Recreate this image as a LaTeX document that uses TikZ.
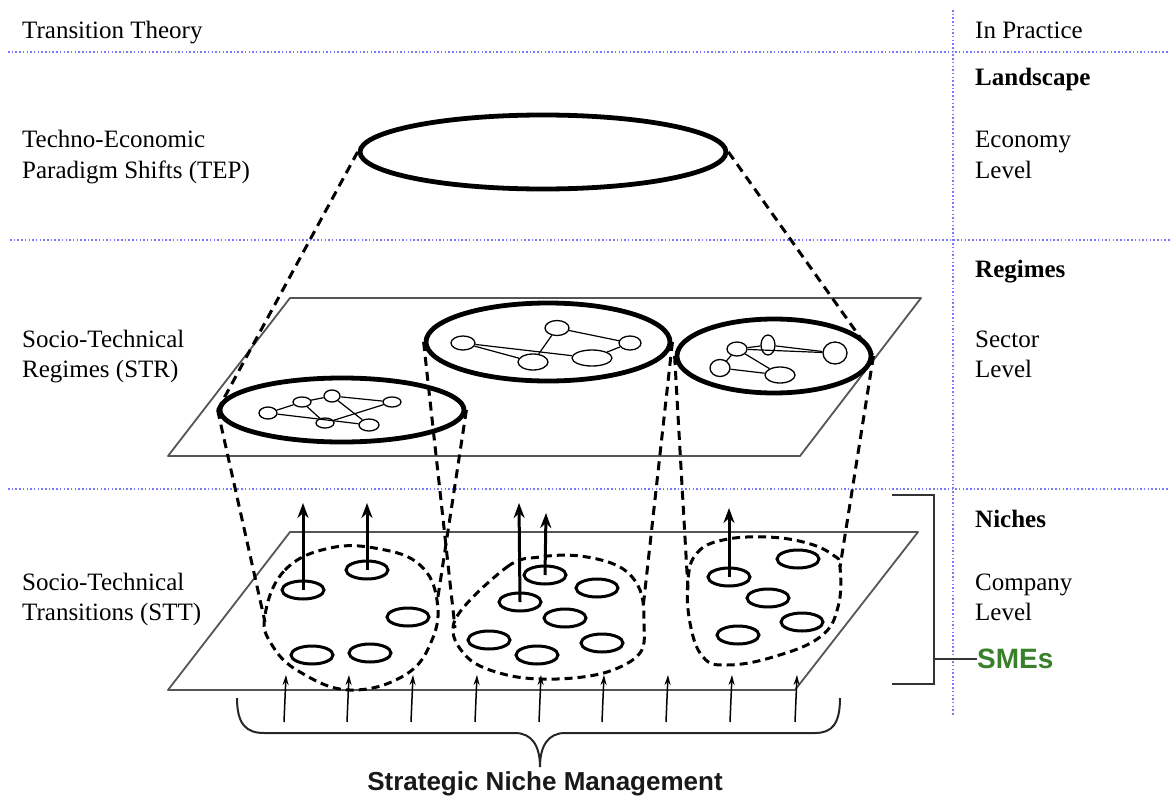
\documentclass[tikz,border=0pt]{standalone}
\usepackage{fontspec}
\setmainfont{Liberation Serif}
\newfontfamily\arialfont{Liberation Sans}
\usetikzlibrary{shapes.geometric,arrows.meta}
\definecolor{gridblue}{RGB}{120,120,250}
\definecolor{smegreen}{RGB}{58,128,42}
\definecolor{planegray}{RGB}{85,85,85}
\begin{document}
\begin{tikzpicture}[x=1pt,y=-1pt,
  lbl/.style={anchor=base west,inner sep=0,font=\fontsize{25}{30}\selectfont},
  lblb/.style={lbl,font=\fontsize{25}{30}\selectfont\bfseries},
  guide/.style={gridblue,line width=1.1pt,dash pattern=on 1.5pt off 2.2pt},
  plane/.style={planegray,line width=1.8pt,line join=round},
  bigell/.style={ellipse,draw,line width=4.8pt,inner sep=0},
  netnode/.style={ellipse,draw,line width=1.3pt,inner sep=0},
  netedge/.style={line width=1.2pt},
  nicheell/.style={ellipse,draw,line width=3pt,inner sep=0,minimum width=42pt,minimum height=18pt},
  cyl/.style={line width=3pt,dash pattern=on 9pt off 6pt},
  blob/.style={line width=3pt,dash pattern=on 8pt off 5pt},
  uparrow/.style={line width=3pt,-{Stealth[length=15pt,width=11pt]}},
  smallarrow/.style={line width=1.5pt,-{Stealth[length=10pt,width=6pt]}},
  bracket/.style={black!80,line width=2pt}]
\useasboundingbox (0,0) rectangle (1170,798);

% guide lines
\draw[guide] (8,52) -- (1170,52);
\draw[guide] (10,240) -- (1170,240);
\draw[guide] (8,489) -- (1170,489);
\draw[guide] (953,10) -- (953,715);

% texts
\node[lbl] (tt) at (22,38) {Transition Theory};
\node[lbl] (ip) at (975,38) {In Practice};
\node[lblb] (land) at (975,85) {Landscape};
\node[lbl] (tep1) at (22,147) {Techno-Economic};
\node[lbl] (tep2) at (22,178) {Paradigm Shifts (TEP)};
\node[lbl] (eco1) at (975,147) {Economy};
\node[lbl] (eco2) at (975,178) {Level};
\node[lblb] (reg) at (975,277) {Regimes};
\node[lbl] (str1) at (22,347) {Socio-Technical};
\node[lbl] (str2) at (22,377) {Regimes (STR)};
\node[lbl] (sec1) at (975,347) {Sector};
\node[lbl] (sec2) at (975,377) {Level};
\node[lblb] (nic) at (975,527) {Niches};
\node[lbl] (stt1) at (22,590) {Socio-Technical};
\node[lbl] (stt2) at (22,620) {Transitions (STT)};
\node[lbl] (com1) at (975,590) {Company};
\node[lbl] (com2) at (975,620) {Level};
\node[anchor=west,inner sep=0,text=smegreen,font=\arialfont\bfseries\fontsize{28}{32}\selectfont] (sme) at (977,659) {SMEs};
\node[anchor=base,inner sep=0,text=black!90,font=\arialfont\bfseries\fontsize{26}{30}\selectfont] (snm) at (545,790) {Strategic Niche Management};

% planes
\draw[plane] (290,298) -- (921,298) -- (800,456) -- (168,456) -- cycle;
\draw[plane] (290,532) -- (918,532) -- (795,690) -- (168,690) -- cycle;

% big ellipses
\node[bigell,minimum width=366pt,minimum height=74pt] (top) at (543,152) {};
\node[bigell,minimum width=244pt,minimum height=64pt] (regL) at (342,410) {};
\node[bigell,minimum width=244pt,minimum height=78pt] (regM) at (548,342) {};
\node[bigell,minimum width=194pt,minimum height=74pt] (regR) at (774,356) {};

% landscape to regimes
\draw[cyl] (top.west) -- (regL.west);
\draw[cyl] (top.east) -- (regR.east);

% networks, left regime
\node[netnode,minimum width=18pt,minimum height=12pt] (a) at (268,413) {};
\node[netnode,minimum width=18pt,minimum height=10pt] (b) at (302,402) {};
\node[netnode,minimum width=16pt,minimum height=12pt] (c) at (332,396) {};
\node[netnode,minimum width=18pt,minimum height=10pt] (d) at (392,402) {};
\node[netnode,minimum width=18pt,minimum height=10pt] (e) at (325,423) {};
\node[netnode,minimum width=20pt,minimum height=12pt] (f) at (369,425) {};
\draw[netedge] (a) -- (b);
\draw[netedge] (b) -- (c);
\draw[netedge] (c) -- (d);
\draw[netedge] (b) -- (e);
\draw[netedge] (c) -- (f);
\draw[netedge] (d) -- (e);
\draw[netedge] (a) -- (f);

% networks, middle regime
\node[netnode,minimum width=24pt,minimum height=14pt] (p) at (463,343) {};
\node[netnode,minimum width=24pt,minimum height=15pt] (q) at (557,328) {};
\node[netnode,minimum width=22pt,minimum height=14pt] (r) at (630,343) {};
\node[netnode,minimum width=30pt,minimum height=16pt] (s) at (533,362) {};
\node[netnode,minimum width=40pt,minimum height=16pt] (t) at (592,358) {};
\draw[netedge] (p) -- (s);
\draw[netedge] (p) -- (t);
\draw[netedge] (q) -- (s);
\draw[netedge] (q) -- (r);
\draw[netedge] (t) -- (r);

% networks, right regime
\node[netnode,minimum width=20pt,minimum height=14pt] (u) at (737,349) {};
\node[netnode,minimum width=14pt,minimum height=20pt] (v) at (768,345) {};
\node[netnode,minimum width=24pt,minimum height=22pt] (w) at (835,353) {};
\node[netnode,minimum width=20pt,minimum height=17pt] (x) at (720,368) {};
\node[netnode,minimum width=30pt,minimum height=16pt] (y) at (780,375) {};
\draw[netedge] (u) -- (v);
\draw[netedge] (v) -- (w);
\draw[netedge] (u) -- (w);
\draw[netedge] (u) -- (x);
\draw[netedge] (x) -- (y);
\draw[netedge] (u) -- (y);

% niche blobs
\draw[blob] plot[smooth cycle,tension=0.7] coordinates {(265,615) (285,570) (330,548) (380,549) (420,565) (437,600) (432,640) (405,675) (350,690) (300,672) (272,645)};
\draw[blob] plot[smooth cycle,tension=0.6] coordinates {(455,620) (507,567) (540,557) (580,556) (620,567) (640,590) (644,623) (640,653) (607,672) (557,679) (507,675) (467,657)};
\draw[blob] plot[smooth cycle,tension=0.7] coordinates {(688,580) (697,553) (723,540) (767,537) (807,543) (833,555) (840,567) (838,607) (820,637) (773,657) (727,665) (703,657) (690,623)};

% blob edge points
\coordinate (bLl) at (265,622);
\coordinate (bLr) at (437,603);
\coordinate (bMl) at (455,628);
\coordinate (bMr) at (643,608);
\coordinate (bRl) at (688,590);
\coordinate (bRr) at (840,567);

% regimes to niches
\draw[cyl] (regL.west) -- (bLl);
\draw[cyl] (regL.east) -- (bLr);
\draw[cyl] (regM.west) -- (bMl);
\draw[cyl] (regM.east) -- (bMr);
\draw[cyl] (regR.west) -- (bRl);
\draw[cyl] (regR.east) -- (bRr);

% niche ellipses
\node[nicheell] (L1) at (303,590) {};
\node[nicheell] (L2) at (367,570) {};
\node[nicheell] (L3) at (408,617) {};
\node[nicheell] (L4) at (312,655) {};
\node[nicheell] (L5) at (370,653) {};
\node[nicheell] (M1) at (545,575) {};
\node[nicheell] (M2) at (597,588) {};
\node[nicheell] (M3) at (520,602) {};
\node[nicheell] (M4) at (565,618) {};
\node[nicheell] (M5) at (489,640) {};
\node[nicheell] (M6) at (602,643) {};
\node[nicheell] (M7) at (537,655) {};
\node[nicheell] (R1) at (729,577) {};
\node[nicheell] (R2) at (798,559) {};
\node[nicheell] (R3) at (768,598) {};
\node[nicheell] (R4) at (802,622) {};
\node[nicheell] (R5) at (738,635) {};

% upward arrows
\coordinate (aL1) at (303,503);
\coordinate (aL2) at (367,503);
\coordinate (aM3) at (519,503);
\coordinate (aM1) at (546,513);
\coordinate (aR1) at (729,508);
\draw[uparrow] (L1.center) -- (aL1);
\draw[uparrow] (L2.center) -- (aL2);
\draw[uparrow] (M3.center) -- (aM3);
\draw[uparrow] (M1.center) -- (aM1);
\draw[uparrow] (R1.center) -- (aR1);

% bottom arrows
\foreach \i/\xx in {1/286,2/349,3/413,4/477,5/541,6/604,7/668,8/732,9/797}{
  \coordinate (sb\i) at (\xx-2,722);
  \coordinate (st\i) at (\xx,675);
  \draw[smallarrow] (sb\i) -- (st\i);
}

% brace
\coordinate (brL) at (237,698);
\coordinate (brR) at (840,698);
\coordinate (brTip) at (540,767);
\draw[line width=2pt,black!85] (brL) .. controls (237,724) and (246,733) .. (264,733) -- (515,733) .. controls (532,733) and (540,746) .. (brTip) .. controls (540,746) and (548,733) .. (565,733) -- (815,733) .. controls (832,733) and (840,724) .. (brR);

% SMEs bracket
\coordinate (bkT) at (892,495);
\coordinate (bkB) at (892,684);
\coordinate (bkM) at (934,659);
\draw[bracket] (bkT) -- (934,495) -- (934,684) -- (bkB);
\draw[bracket] (bkM) -- (sme.west);
\end{tikzpicture}
\end{document}
